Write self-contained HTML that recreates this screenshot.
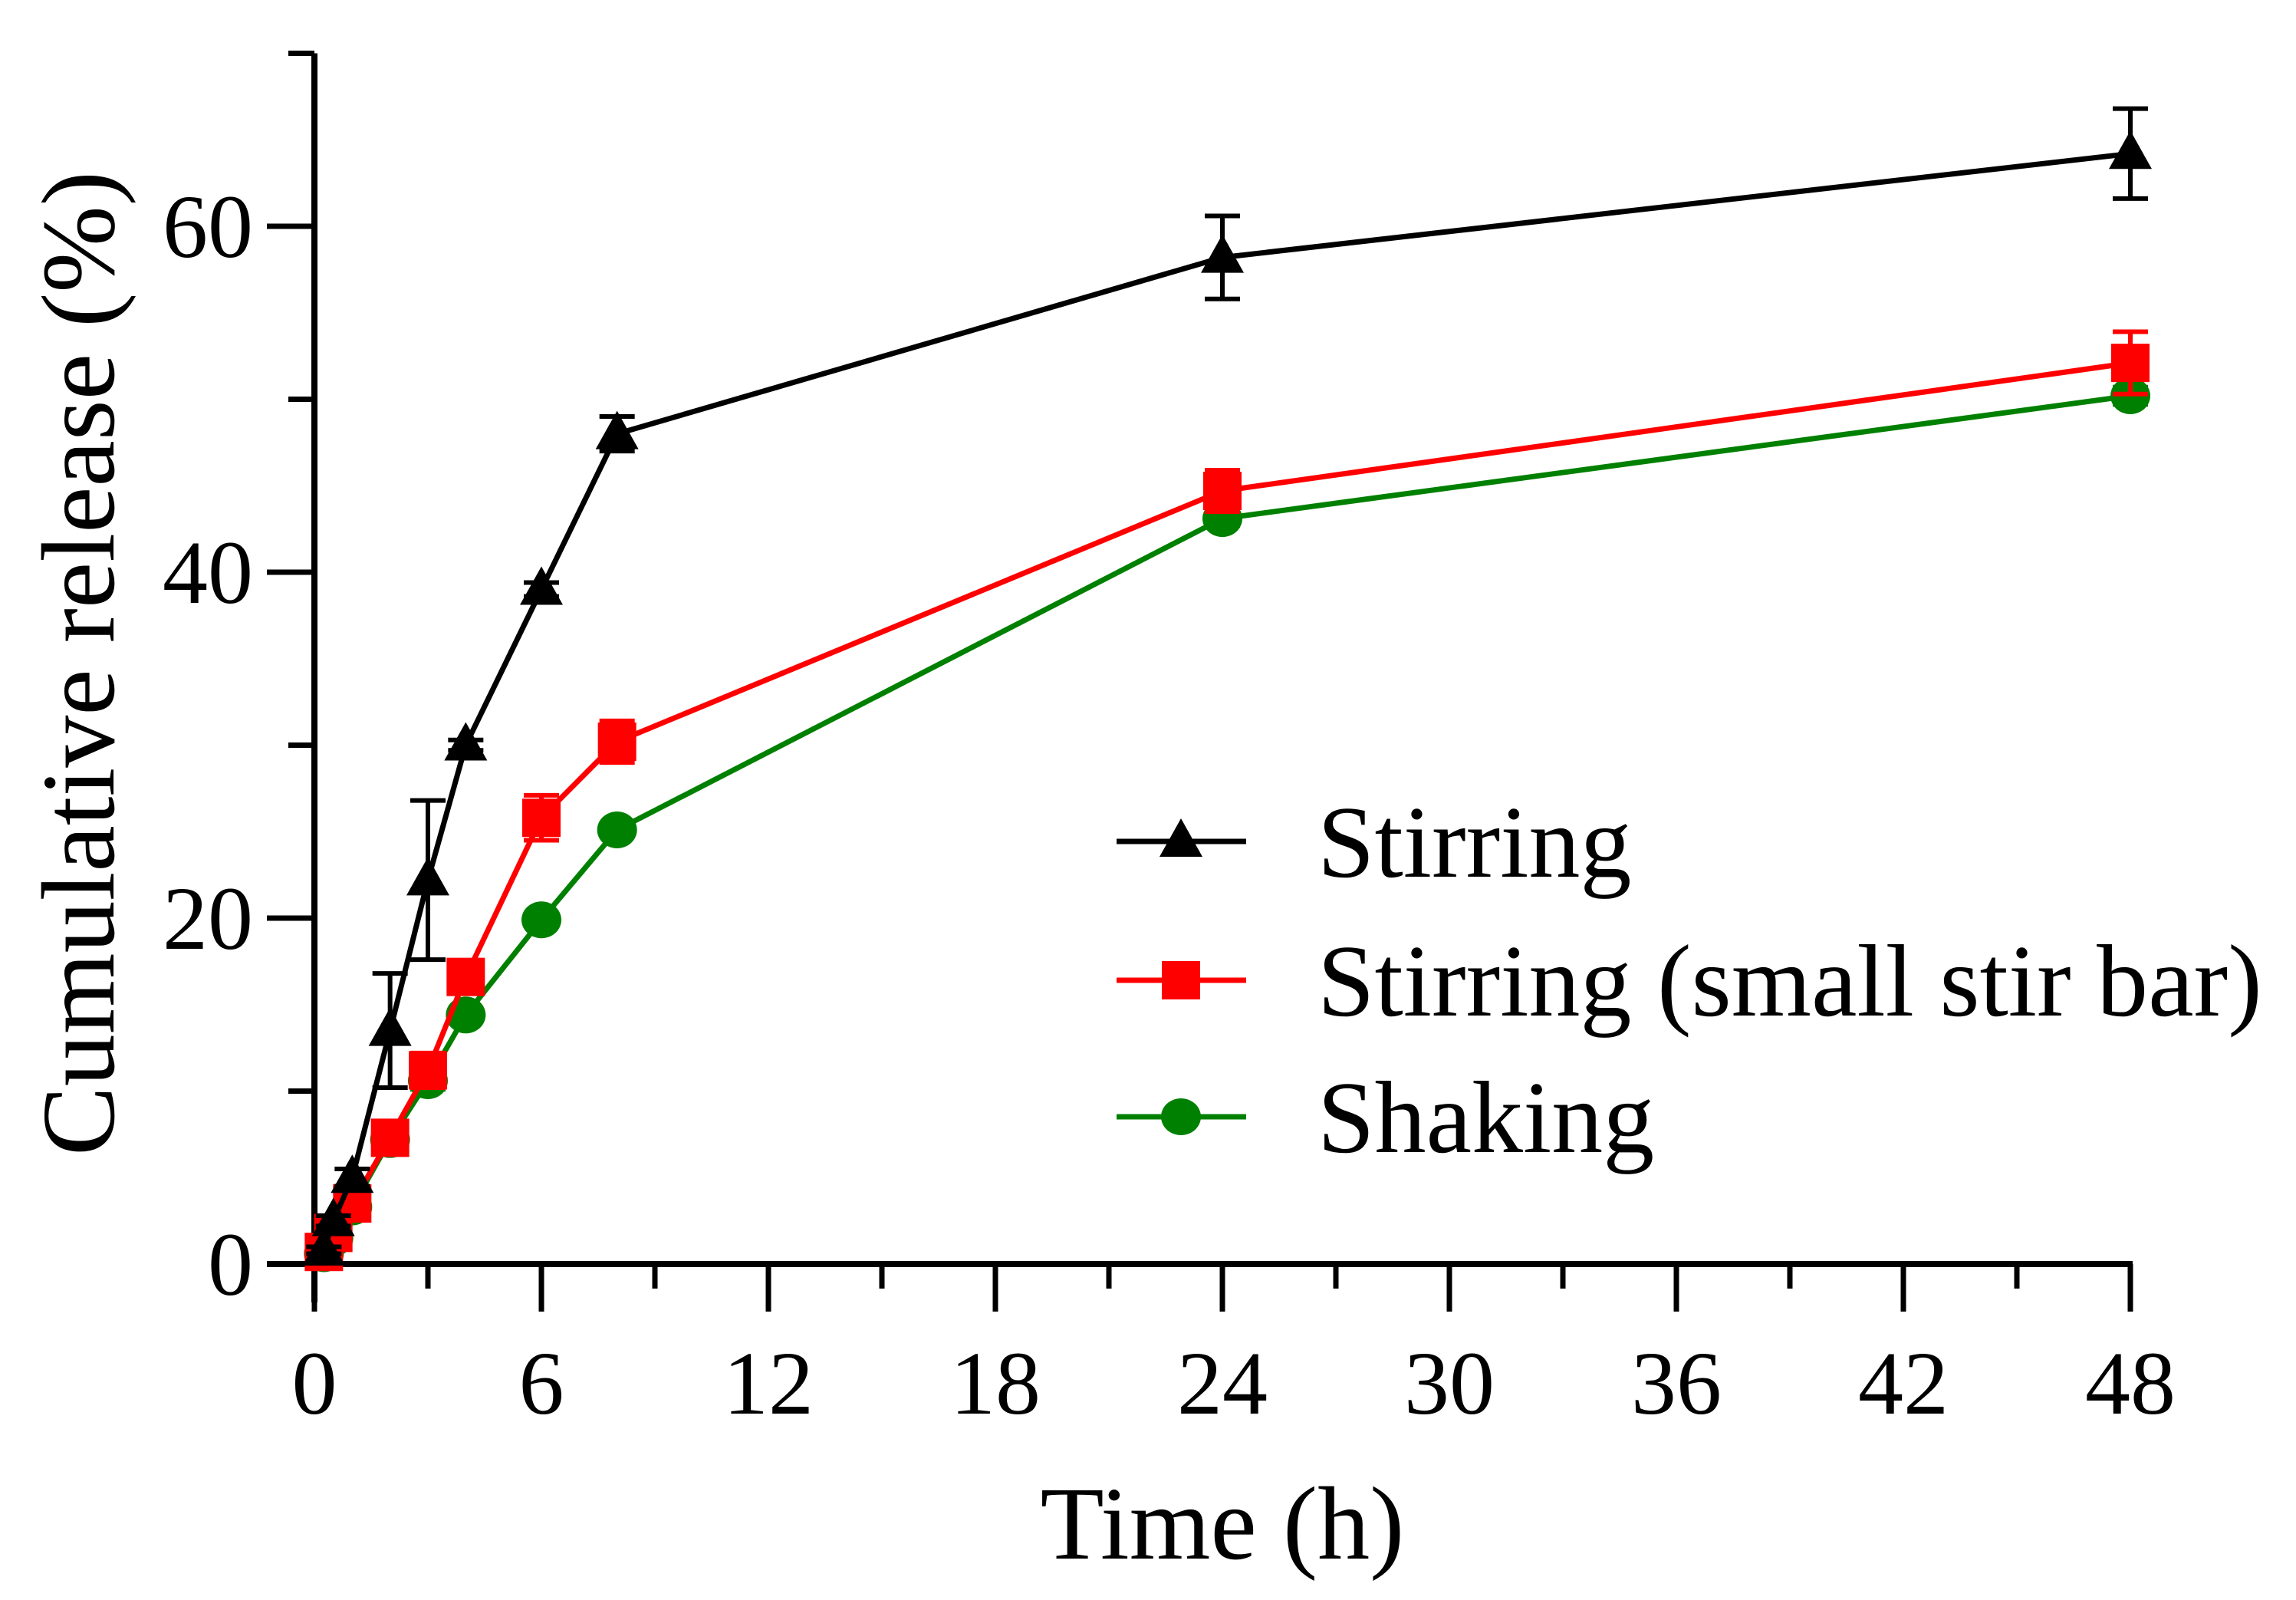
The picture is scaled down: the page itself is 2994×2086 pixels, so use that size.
<!DOCTYPE html>
<html><head><meta charset="utf-8"><style>
html,body{margin:0;padding:0;background:#fff;}
svg{display:block;font-family:"Liberation Serif",serif;}
</style></head><body>
<svg id="chart" width="2994" height="2086" viewBox="0 0 2994 2086" xmlns="http://www.w3.org/2000/svg">
<g id="axes"></g>
<g id="plot"></g>
<text x="1594" y="2032" font-size="136" text-anchor="middle">Time (h)</text>
<text transform="translate(148,865) rotate(-90)" font-size="136" text-anchor="middle">Cumulative release (%)</text>
<g id="legend"></g>
</svg>
<script>
const times = [0.25, 0.5, 1, 2, 3, 4, 6, 8, 24, 48];
const stirring = [0.8, 2.5, 5, 13.5, 22.2, 30, 39, 48, 58.2, 64.2];
const stirringErr = [0.2, 0.3, 0.5, 3.3, 4.6, 0.3, 0.4, 1, 2.4, 2.6];
const smallBar = [0.7, 1.8, 3.5, 7.3, 11.2, 16.6, 25.8, 30.2, 44.7, 52.1];
const smallBarErr = [0.2, 0.3, 0.5, 0.6, 1, 0.5, 1.3, 1.2, 1.2, 1.8];
const shaking = [0.6, 1.5, 3.3, 7.2, 10.6, 14.4, 19.9, 25.1, 43.1, 50.2];
const shakingErr = [0.1, 0.1, 0.2, 0.3, 0.5, 0.3, 0.3, 0.3, 0.4, 0.5];
const xTicks = [0, 6, 12, 18, 24, 30, 36, 42, 48];
const yTicks = [0, 20, 40, 60];
const legendLabels = ["Stirring", "Stirring (small stir bar)", "Shaking"];

const NS = "http://www.w3.org/2000/svg";
const X0 = 410, X1 = 2778, Y0 = 1648, Y1 = 295;
const sx = v => X0 + (v / 48) * (X1 - X0);
const sy = v => Y0 - (v / 60) * (Y0 - Y1);
function mk(tag, attrs, parent) {
  const e = document.createElementNS(NS, tag);
  for (const k in attrs) e.setAttribute(k, attrs[k]);
  parent.appendChild(e);
  return e;
}
const axes = document.getElementById('axes');
const plot = document.getElementById('plot');
const legend = document.getElementById('legend');

let a = mk('line', {x1: X0, y1: sy(70), x2: X0, y2: Y0 + 50, stroke: '#000', 'stroke-width': 8}, axes);


a = mk('line', {x1: X0 - 62, y1: Y0, x2: X1 + 3, y2: Y0, stroke: '#000', 'stroke-width': 8}, axes);



for (let v = 10; v <= 70; v += 20) {
  const t = mk('line', {x1: X0 - 34, y1: sy(v), x2: X0, y2: sy(v), stroke: '#000', 'stroke-width': 7}, axes);
  
  
}
yTicks.forEach(v => {
  const t = mk('line', {x1: X0 - 62, y1: sy(v), x2: X0, y2: sy(v), stroke: '#000', 'stroke-width': 7}, axes);
  
  
  const l = mk('text', {x: 330, y: sy(v) + 40, 'font-size': 118, 'text-anchor': 'end'}, axes);
  l.textContent = v;
  
  
});
for (let v = 3; v < 48; v += 6) {
  const t = mk('line', {x1: sx(v), y1: Y0, x2: sx(v), y2: Y0 + 32, stroke: '#000', 'stroke-width': 7}, axes);
  
  
}
xTicks.forEach(v => {
  const t = mk('line', {x1: sx(v), y1: Y0, x2: sx(v), y2: Y0 + 62, stroke: '#000', 'stroke-width': 7}, axes);
  
  
  const l = mk('text', {x: sx(v), y: 1843, 'font-size': 118, 'text-anchor': 'middle'}, axes);
  l.textContent = v;
  
  
});

function marker(shape, cx, cy, color, parent) {
  let m;
  if (shape === 'tri') m = mk('polygon', {points: `${cx},${cy-30} ${cx-28},${cy+20} ${cx+28},${cy+20}`, fill: color}, parent);
  else if (shape === 'sq') m = mk('rect', {x: cx-25, y: cy-25, width: 50, height: 50, fill: color}, parent);
  else m = mk('ellipse', {cx: cx, cy: cy, rx: 26, ry: 24, fill: color}, parent);
  return m;
}
const series = [
  {vals: shaking, err: shakingErr, color: '#008000', shape: 'circ', name: 'shaking'},
  {vals: smallBar, err: smallBarErr, color: '#ff0000', shape: 'sq', name: 'stirring-small-bar'},
  {vals: stirring, err: stirringErr, color: '#000000', shape: 'tri', name: 'stirring'}
];
series.forEach(s => {
  const g = mk('g', {}, plot);
  
  
  times.forEach((t, i) => {
    const x = sx(t), yt = sy(s.vals[i] + s.err[i]), yb = sy(s.vals[i] - s.err[i]);
    const e = mk('path', {d: `M${x},${yt}V${yb}M${x-23},${yt}H${x+23}M${x-23},${yb}H${x+23}`, stroke: s.color, 'stroke-width': 6, fill: 'none'}, g);
    
    
  });
  const pts = times.map((t, i) => sx(t) + ',' + sy(s.vals[i])).join(' ');
  const ln = mk('polyline', {points: pts, fill: 'none', stroke: s.color, 'stroke-width': 7, 'stroke-linejoin': 'round'}, g);
  
  
  times.forEach((t, i) => {
    const m = marker(s.shape, sx(t), sy(s.vals[i]), s.color, g);
    
    
  });
});

const legRows = [1097, 1278, 1456];
const legSeries = [series[2], series[1], series[0]];
legSeries.forEach((s, i) => {
  const g = mk('g', {}, legend);
  
  
  const y = legRows[i];
  mk('line', {x1: 1456, y1: y, x2: 1625, y2: y, stroke: s.color, 'stroke-width': 7}, g);
  marker(s.shape, 1540, y, s.color, g);
  const tx = mk('text', {x: 1718, y: y + 46, 'font-size': 134}, g);
  tx.textContent = legendLabels[i];
  
  
});
</script>
</body></html>
